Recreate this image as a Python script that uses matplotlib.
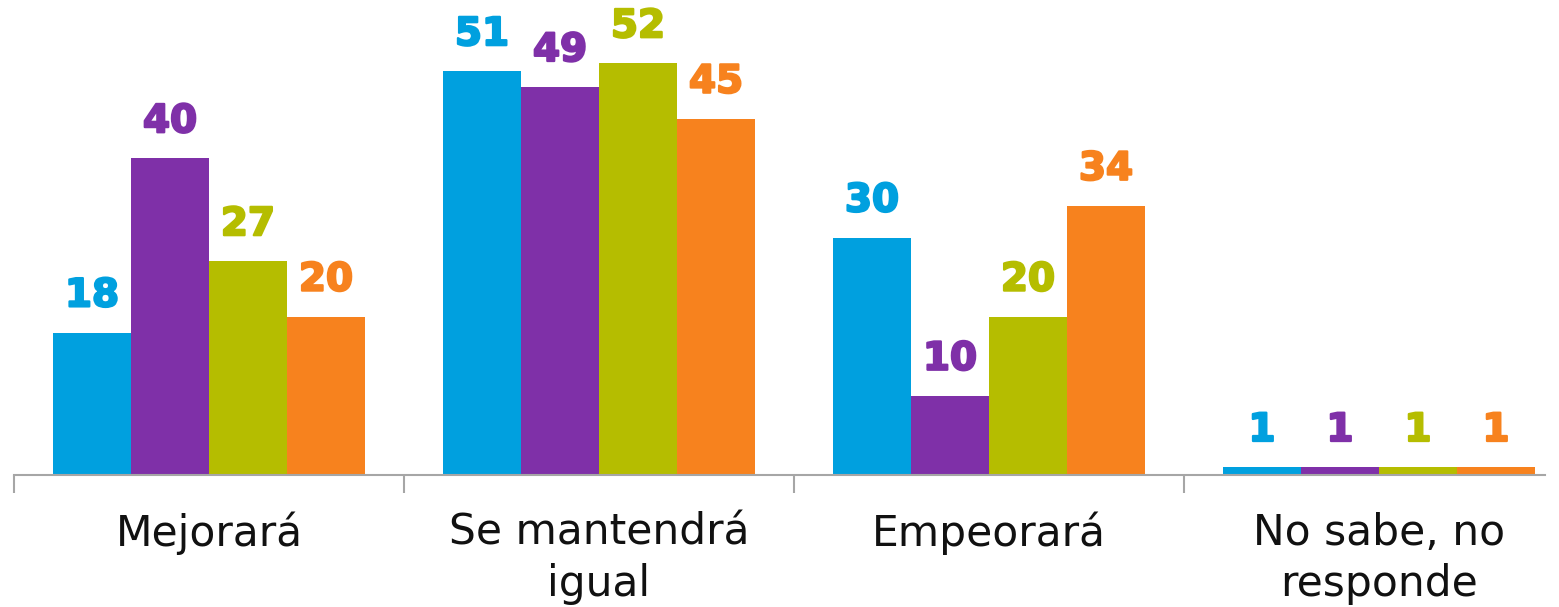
import numpy as np
import matplotlib
matplotlib.use("Agg")
import matplotlib.pyplot as plt
import matplotlib.patheffects as pe

categories = ["Mejorará", "Se mantendrá\nigual", "Empeorará", "No sabe, no\nresponde"]
serie_1 = [18, 51, 30, 1]
serie_2 = [40, 49, 10, 1]
serie_3 = [27, 52, 20, 1]
serie_4 = [20, 45, 34, 1]

series = [serie_1, serie_2, serie_3, serie_4]
colors = ["#00A0DF", "#7F30A8", "#B5BD00", "#F7821E"]

plt.rcParams['font.family'] = ['DejaVu Sans']

W, H = 1559, 607
fig = plt.figure(figsize=(W / 100, H / 100), dpi=100)
ax = fig.add_axes([14 / W, (H - 475) / H, (1545 - 14) / W, 475 / H])

x = np.arange(len(categories))
width = 0.2
for i, (vals, c) in enumerate(zip(series, colors)):
    pos = x + (i - 1.5) * width
    ax.bar(pos, vals, width=width, color=c, linewidth=0)
    for p, v in zip(pos, vals):
        ax.annotate(str(v), (p, v), xytext=(0, 13), textcoords="offset points",
                    ha="center", va="bottom", fontsize=28, fontweight="bold",
                    color=c,
                    path_effects=[pe.withStroke(linewidth=1.6, foreground=c)])

ax.set_xlim(-0.5, (1545 - 209) / 390)
ax.set_ylim(0, 60)

for s in ["top", "right", "left"]:
    ax.spines[s].set_visible(False)
ax.spines["bottom"].set_color("#A6A6A6")
ax.spines["bottom"].set_linewidth(1.5)
ax.set_yticks([])

# ticks between groups, labels centred under groups
ax.set_xticks(np.arange(len(categories)) - 0.5)
ax.set_xticklabels([])
ax.tick_params(axis="x", length=13, width=1.5, color="#A6A6A6")
for xi, lab in zip(x, categories):
    ax.text(xi, -4.65, lab, ha="center", va="top", fontsize=30.5,
            color="#111111", linespacing=1.27,
            transform=ax.transData, clip_on=False)

fig.savefig("out.png", dpi=100)
